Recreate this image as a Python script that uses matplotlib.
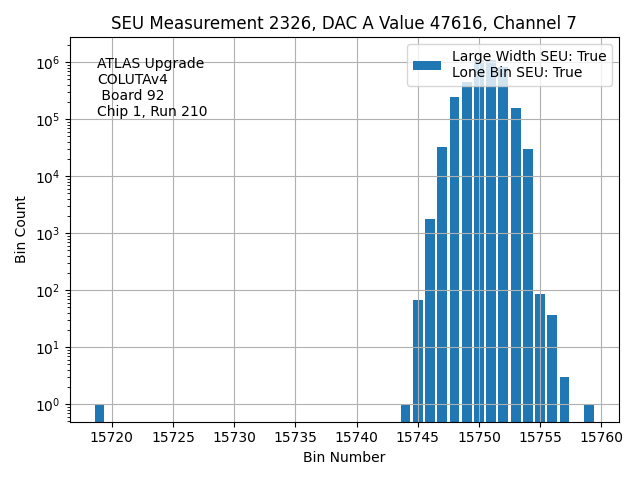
import numpy as np
import matplotlib
matplotlib.use('Agg')
import matplotlib.pyplot as plt

bins = [15719, 15744, 15745, 15746, 15747, 15748, 15749, 15750,
        15751, 15752, 15753, 15754, 15755, 15756, 15757, 15759]
counts = [1, 1, 68, 1780, 32000, 242000, 460000, 1080000,
          1080000, 840000, 160000, 30000, 85, 37, 3, 1]

fig, ax = plt.subplots(figsize=(6.4, 4.8), dpi=100)
ax.bar(bins, counts, label='Large Width SEU: True\nLone Bin SEU: True')
ax.set_yscale('log')
ax.set_ylim(0.49, 2.75e6)
ax.grid(True)
ax.set_title('SEU Measurement 2326, DAC A Value 47616, Channel 7')
ax.set_xlabel('Bin Number')
ax.set_ylabel('Bin Count')
ax.text(0.05, 0.95, 'ATLAS Upgrade\nCOLUTAv4\n Board 92\nChip 1, Run 210',
        transform=ax.transAxes, va='top', ha='left')
ax.legend(loc='upper right')
plt.tight_layout()
plt.savefig('out.png')
